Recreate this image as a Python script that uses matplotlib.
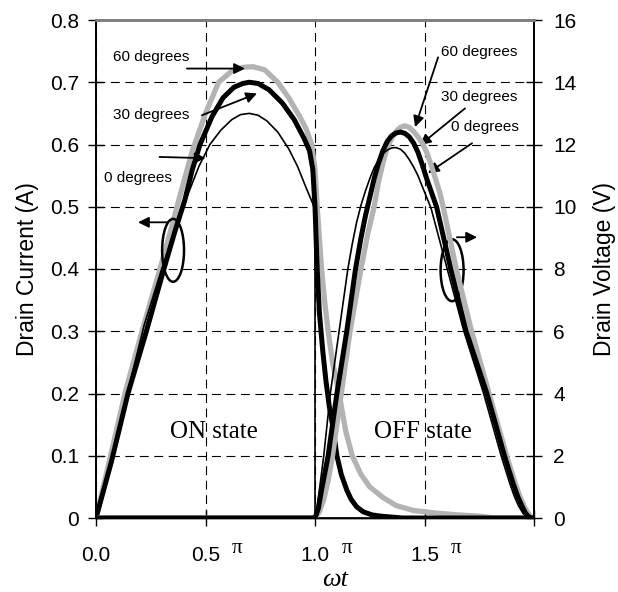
import matplotlib
matplotlib.use('Agg')
import matplotlib.pyplot as plt
from matplotlib.patches import Ellipse

plt.rcParams['font.family'] = ['Liberation Sans', 'DejaVu Sans']

# --- data (x in units of pi) ---
# drain current (A)
cur0_x = [0, 0.08, 0.15, 0.22, 0.30, 0.36, 0.42, 0.47, 0.52, 0.57, 0.62, 0.66, 0.70, 0.74,
          0.78, 0.83, 0.88, 0.92, 0.96, 0.99, 1.0, 1.0, 2.0]
cur0_y = [0, 0.11, 0.21, 0.31, 0.40, 0.46, 0.52, 0.565, 0.60, 0.623, 0.64, 0.648, 0.65, 0.647,
          0.638, 0.62, 0.593, 0.565, 0.53, 0.505, 0.495, 0, 0]

cur30_x = [0, 0.07, 0.146, 0.23, 0.31, 0.36, 0.405, 0.44, 0.475, 0.53, 0.58, 0.63, 0.67, 0.70,
           0.74, 0.79, 0.85, 0.905, 0.95, 0.975, 0.99, 1.0, 1.01, 1.02, 1.035, 1.05, 1.065,
           1.08, 1.10, 1.12, 1.145, 1.165, 1.19, 1.22, 1.26, 1.30, 1.40, 2.0]
cur30_y = [0, 0.09, 0.20, 0.30, 0.40, 0.46, 0.51, 0.56, 0.60, 0.645, 0.675, 0.692, 0.698, 0.70,
           0.698, 0.688, 0.667, 0.64, 0.61, 0.59, 0.56, 0.5, 0.4, 0.33, 0.27, 0.22, 0.18,
           0.15, 0.10, 0.07, 0.045, 0.03, 0.018, 0.01, 0.005, 0.003, 0, 0]

cur60_x = [0, 0.06, 0.132, 0.21, 0.292, 0.34, 0.385, 0.44, 0.50, 0.56, 0.62, 0.67, 0.717, 0.77,
           0.83, 0.88, 0.93, 0.96, 0.985, 1.0, 1.01, 1.02, 1.03, 1.045, 1.06, 1.08, 1.11, 1.14,
           1.17, 1.21, 1.25, 1.31, 1.37, 1.45, 1.55, 1.65, 1.75, 1.82, 2.0]
cur60_y = [0, 0.09, 0.20, 0.30, 0.40, 0.46, 0.52, 0.59, 0.65, 0.70, 0.718, 0.724, 0.725, 0.72,
           0.70, 0.675, 0.645, 0.625, 0.60, 0.56, 0.5, 0.45, 0.4, 0.345, 0.3, 0.25, 0.2, 0.14,
           0.1, 0.07, 0.05, 0.033, 0.02, 0.012, 0.008, 0.005, 0.003, 0, 0]

# drain voltage (V)
v0_x = [0, 1.0, 1.01, 1.02, 1.03, 1.04, 1.07, 1.11, 1.15, 1.17, 1.19, 1.21, 1.23, 1.25, 1.27,
        1.29, 1.31, 1.33, 1.35, 1.37, 1.39, 1.41, 1.43, 1.45, 1.47, 1.49, 1.51, 1.53, 1.60,
        1.68, 1.77, 1.85, 1.87, 1.89, 1.91, 1.93, 1.95, 1.97, 1.98, 2.0]
v0_y = [0, 0, 0.35, 0.9, 1.45, 2.0, 4.0, 6.0, 8.0, 8.8, 9.5, 10.05, 10.5, 10.9, 11.25,
        11.5, 11.7, 11.82, 11.89, 11.9, 11.85, 11.72, 11.52, 11.28, 11.0, 10.65, 10.3, 9.95, 8.1,
        6.0, 4.0, 2.0, 1.55, 1.1, 0.7, 0.38, 0.15, 0.02, 0, 0]

v30_x = [0, 1.0, 1.015, 1.03, 1.045, 1.06, 1.10, 1.145, 1.185, 1.21, 1.23, 1.25, 1.27, 1.29,
         1.31, 1.33, 1.35, 1.37, 1.39, 1.41, 1.43, 1.45, 1.47, 1.49, 1.51, 1.53, 1.555, 1.62,
         1.69, 1.785, 1.865, 1.885, 1.905, 1.925, 1.945, 1.96, 1.975, 1.99, 2.0]
v30_y = [0, 0, 0.3, 0.9, 1.45, 2.0, 4.0, 6.0, 8.0, 9.0, 9.7, 10.3, 10.9, 11.4,
         11.8, 12.1, 12.28, 12.37, 12.4, 12.36, 12.25, 12.05, 11.75, 11.35, 10.9, 10.5, 10.0, 8.0,
         6.0, 4.0, 2.0, 1.55, 1.1, 0.7, 0.38, 0.17, 0.04, 0, 0]

v60_x = [0, 1.0, 1.02, 1.04, 1.06, 1.08, 1.12, 1.16, 1.21, 1.24, 1.27, 1.29, 1.31, 1.33,
         1.35, 1.37, 1.39, 1.41, 1.43, 1.45, 1.47, 1.49, 1.51, 1.53, 1.55, 1.57, 1.585, 1.645,
         1.715, 1.795, 1.875, 1.895, 1.915, 1.935, 1.955, 1.97, 1.985, 2.0]
v60_y = [0, 0, 0.2, 0.6, 1.2, 2.0, 4.0, 6.0, 8.0, 9.1, 10.0, 10.8, 11.4, 11.9,
         12.2, 12.42, 12.55, 12.6, 12.55, 12.42, 12.25, 12.05, 11.75, 11.35, 10.9, 10.45, 10.0, 8.0,
         6.0, 4.0, 2.0, 1.55, 1.1, 0.7, 0.38, 0.18, 0.05, 0]

xticks = [0, 0.5, 1.0, 1.5, 2.0]
xticklabels = ['0.0', '0.5', '1.0', '1.5', '']
cur_ticks = [0, 0.1, 0.2, 0.3, 0.4, 0.5, 0.6, 0.7, 0.8]
cur_labels = ['0', '0.1', '0.2', '0.3', '0.4', '0.5', '0.6', '0.7', '0.8']
volt_ticks = [0, 2, 4, 6, 8, 10, 12, 14, 16]

gray = '#b3b3b3'

fig = plt.figure(figsize=(6.18, 5.92), dpi=100)
ax = fig.add_axes([96 / 618, 1 - 518 / 592, (534 - 96) / 618, (518 - 20) / 592])
ax2 = ax.twinx()

# --- current ---
ax.plot(cur60_x, cur60_y, color=gray, lw=3.8, solid_joinstyle='round', zorder=3)
ax.plot(cur30_x, cur30_y, color='black', lw=3.6, solid_joinstyle='round', zorder=4)
ax.plot(cur0_x, cur0_y, color='black', lw=1.2, solid_joinstyle='round', zorder=5)

# --- voltage ---
ax2.plot(v60_x, v60_y, color=gray, lw=3.8, solid_joinstyle='round')
ax2.plot(v30_x, v30_y, color='black', lw=3.6, solid_joinstyle='round')
ax2.plot(v0_x, v0_y, color='black', lw=1.2, solid_joinstyle='round')

ax.set_xlim(0, 2)
ax.set_ylim(0, 0.8)
ax2.set_ylim(0, 16)

ax.set_xticks(xticks)
ax.set_xticklabels(xticklabels)
ax.set_yticks(cur_ticks)
ax.set_yticklabels(cur_labels)
ax2.set_yticks(volt_ticks)

ax.tick_params(axis='both', direction='inout', length=12, width=1, labelsize=15)
ax.tick_params(axis='y', pad=6)
ax.tick_params(axis='x', pad=14)
ax2.tick_params(axis='y', direction='inout', length=12, width=1, labelsize=15, pad=8)

ax.grid(True, color='black', lw=0.8, linestyle=(0, (8, 5)))

for a in (ax, ax2):
    a.spines['top'].set_color('#808080')
    a.spines['top'].set_linewidth(2)
    a.spines['left'].set_linewidth(1.3)
    a.spines['right'].set_linewidth(1.3)
    a.spines['bottom'].set_linewidth(1)

# pi signs after the tick numbers
for xv in [0.5, 1.0, 1.5]:
    ax.annotate('π', xy=(xv, 0), xycoords=('data', 'axes fraction'), xytext=(23, -22),
                textcoords='offset points', ha='center', va='center', fontsize=15,
                family='Liberation Serif')

ax.set_ylabel('Drain Current (A)', fontsize=16.5, labelpad=8)
ax2.set_ylabel('Drain Voltage (V)', fontsize=16.5, rotation=90, labelpad=12)
fig.text(335 / 618, 1 - 580 / 592, 'ωt', ha='center', va='center', fontsize=19,
         family='Liberation Serif', style='italic')

ax.text(0.539, 0.138, 'ON state', ha='center', va='center', fontsize=18,
        family='Liberation Serif', zorder=6)
ax.text(1.495, 0.138, 'OFF state', ha='center', va='center', fontsize=18,
        family='Liberation Serif', zorder=6)

# --- annotations ---
arr = dict(arrowstyle='-|>', color='black', lw=1.3, mutation_scale=16, shrinkA=0, shrinkB=0)
ax.text(0.25, 0.74, '60 degrees', ha='center', va='center', fontsize=11)
ax.annotate('', xy=(0.68, 0.722), xytext=(0.415, 0.722), arrowprops=arr)
ax.text(0.25, 0.647, '30 degrees', ha='center', va='center', fontsize=11)
ax.annotate('', xy=(0.735, 0.682), xytext=(0.484, 0.647), arrowprops=arr)
ax.text(0.19, 0.546, '0 degrees', ha='center', va='center', fontsize=11)
ax.annotate('', xy=(0.50, 0.578), xytext=(0.29, 0.58), arrowprops=arr)

ax.text(1.749, 0.748, '60 degrees', ha='center', va='center', fontsize=11)
ax.annotate('', xy=(1.457, 0.628), xytext=(1.562, 0.740), arrowprops=arr)
ax.text(1.749, 0.676, '30 degrees', ha='center', va='center', fontsize=11)
ax.annotate('', xy=(1.479, 0.599), xytext=(1.685, 0.658), arrowprops=arr)
ax.text(1.774, 0.628, '0 degrees', ha='center', va='center', fontsize=11)
ax.annotate('', xy=(1.516, 0.554), xytext=(1.717, 0.602), arrowprops=arr)

# ellipses with arrows pointing to the axis
ax.add_patch(Ellipse((0.352, 0.43), 0.10, 0.101, fill=False, lw=1.8, ec='black', zorder=7))
ax.annotate('', xy=(0.192, 0.475), xytext=(0.329, 0.475), arrowprops=arr, zorder=7)
ax.add_patch(Ellipse((1.626, 0.398), 0.105, 0.0995, fill=False, lw=1.8, ec='black', zorder=7))
ax.annotate('', xy=(1.74, 0.451), xytext=(1.648, 0.451), arrowprops=arr, zorder=7)

plt.savefig('out.png', dpi=100)
